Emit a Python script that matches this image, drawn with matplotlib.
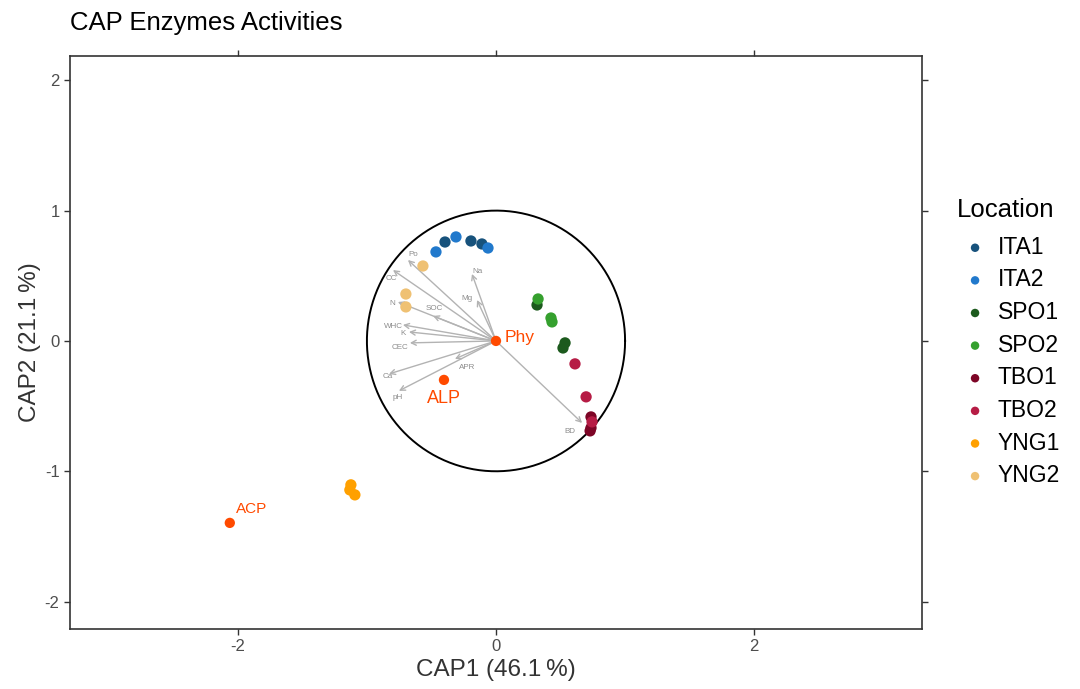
import matplotlib
matplotlib.use("Agg")
import matplotlib.pyplot as plt
import numpy as np

plt.rcParams['font.family'] = ['Liberation Sans', 'DejaVu Sans']
plt.rcParams['axes.unicode_minus'] = False

# sample scores on the first two CAP axes, per location
locations = ["ITA1", "ITA2", "SPO1", "SPO2", "TBO1", "TBO2", "YNG1", "YNG2"]
loc_colors = ["#17527c", "#2179cc", "#1c5a1d", "#35a02e",
              "#7d0526", "#b61c45", "#ffa000", "#efc173"]
cap1_scores = {
    "ITA1": [-0.395, -0.194, -0.109],
    "ITA2": [-0.465, -0.310, -0.062],
    "SPO1": [0.318, 0.519, 0.535],
    "SPO2": [0.326, 0.426, 0.434],
    "TBO1": [0.736, 0.736, 0.729],
    "TBO2": [0.612, 0.698, 0.744],
    "YNG1": [-1.124, -1.132, -1.093],
    "YNG2": [-0.566, -0.698, -0.698],
}
cap2_scores = {
    "ITA1": [0.759, 0.767, 0.744],
    "ITA2": [0.683, 0.798, 0.713],
    "SPO1": [0.276, -0.054, -0.015],
    "SPO2": [0.322, 0.176, 0.146],
    "TBO1": [-0.583, -0.667, -0.690],
    "TBO2": [-0.176, -0.429, -0.621],
    "YNG1": [-1.104, -1.143, -1.181],
    "YNG2": [0.575, 0.360, 0.261],
}

# enzyme scores
enzymes = ["ACP", "ALP", "Phy"]
enz_cap1 = [-2.062, -0.403, 0.0]
enz_cap2 = [-1.396, -0.299, 0.0]

# soil variable vectors
soil_vars = ["Po", "CC", "Na", "Mg", "N", "SOC", "WHC", "K", "CEC", "Ca", "APR", "pH", "BD"]
vec_cap1 = [-0.682, -0.798, -0.186, -0.147, -0.760, -0.488, -0.721, -0.674, -0.667, -0.829, -0.318, -0.752, 0.667]
vec_cap2 = [0.621, 0.544, 0.514, 0.314, 0.299, 0.192, 0.123, 0.069, -0.015, -0.253, -0.138, -0.383, -0.629]

# label offsets (points) so the small vector labels don't sit on the arrowheads
label_nudge = {"Po": (4, 4), "CC": (-1, -6), "Na": (4, 2), "Mg": (-7, 1),
               "N": (-4, -1), "SOC": (1, 5), "WHC": (-7, -1), "K": (-4, -1),
               "CEC": (-7, -3), "Ca": (-1, -2), "APR": (9, -6), "pH": (-1, -5),
               "BD": (-9, -6)}

fig = plt.figure(figsize=(10.8, 6.89), dpi=100)
ax = fig.add_axes([0.0648, 0.0871, 0.7889, 0.8316])

# unit circle
t = np.linspace(0, 2 * np.pi, 400)
ax.plot(np.cos(t), np.sin(t), color="black", lw=1.4, zorder=1)

# soil vectors
for name, vx, vy in zip(soil_vars, vec_cap1, vec_cap2):
    ax.annotate("", xy=(vx, vy), xytext=(0, 0),
                arrowprops=dict(arrowstyle="->,head_length=0.35,head_width=0.18",
                                color="#b3b3b3", lw=1.0, shrinkA=0, shrinkB=0),
                zorder=2)
    ax.annotate(name, xy=(vx, vy), xytext=label_nudge[name], textcoords="offset points",
                fontsize=5.8, color="#8c8c8c", ha="center", va="center", zorder=3)

# samples
for loc, col in zip(locations, loc_colors):
    ax.scatter(cap1_scores[loc], cap2_scores[loc], s=66, color=col,
               edgecolors="none", label=loc, zorder=4)

# enzymes
ax.scatter(enz_cap1, enz_cap2, s=55, color="#ff4a00", edgecolors="none", zorder=5)
ax.text(enz_cap1[0] + 0.05, enz_cap2[0] + 0.05, enzymes[0], fontsize=11,
        color="#ff4a00", ha="left", va="bottom", zorder=6)
ax.text(enz_cap1[1], enz_cap2[1] - 0.08, enzymes[1], fontsize=13,
        color="#ff4a00", ha="center", va="top", zorder=6)
ax.text(enz_cap1[2] + 0.07, enz_cap2[2] + 0.03, enzymes[2], fontsize=12.5,
        color="#ff4a00", ha="left", va="center", zorder=6)

ax.set_xlim(-3.3, 3.3)
ax.set_ylim(-2.21, 2.186)
ax.set_xticks([-2, 0, 2])
ax.set_yticks([-2, -1, 0, 1, 2])
ax.tick_params(axis="both", which="both", direction="out", length=4, width=1,
               color="#333333", labelcolor="#4d4d4d", labelsize=12,
               top=True, right=True, labeltop=False, labelright=False)
for sp in ax.spines.values():
    sp.set_color("#333333")
    sp.set_linewidth(1.2)

ax.set_xlabel("CAP1 (46.1\u2009%)", fontsize=17.5, color="#333333", labelpad=3)
ax.set_ylabel("CAP2 (21.1\u2009%)", fontsize=17.5, color="#333333", labelpad=3)
fig.text(0.0648, 0.966, "CAP Enzymes Activities", fontsize=18.5, color="black",
         ha="left", va="center")

leg = ax.legend(title="Location", loc="center left", bbox_to_anchor=(1.03, 0.5),
                frameon=False, fontsize=16.5, title_fontsize=18.5,
                handletextpad=0.2, handlelength=1.6, labelspacing=0.42,
                markerscale=0.75, borderaxespad=0)
leg._legend_box.align = "left"
leg._legend_box.sep = 10

fig.savefig("out.png", dpi=100)
